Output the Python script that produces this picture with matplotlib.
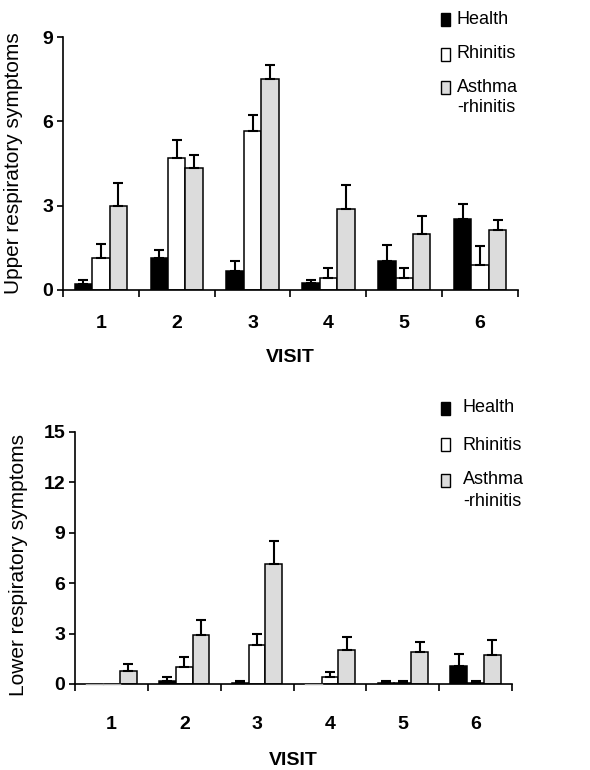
import matplotlib
matplotlib.use("Agg")
import matplotlib.pyplot as plt
import numpy as np
from matplotlib.patches import Rectangle

plt.rcParams['font.family'] = ['Liberation Sans', 'DejaVu Sans']

visits = ['1', '2', '3', '4', '5', '6']
groups = ['Health', 'Rhinitis', 'Asthma\n-rhinitis']
colors = ['black', 'white', '#dcdcdc']

upper_health = [0.21, 1.15, 0.66, 0.24, 1.02, 2.52]
upper_health_err = [0.15, 0.29, 0.37, 0.12, 0.58, 0.55]
upper_rhinitis = [1.15, 4.69, 5.65, 0.43, 0.43, 0.89]
upper_rhinitis_err = [0.47, 0.66, 0.59, 0.36, 0.36, 0.67]
upper_asthma = [3.00, 4.33, 7.51, 2.89, 1.99, 2.12]
upper_asthma_err = [0.79, 0.48, 0.48, 0.86, 0.64, 0.36]

lower_health = [0.0, 0.16, 0.08, 0.0, 0.08, 1.09]
lower_health_err = [0.0, 0.24, 0.12, 0.0, 0.12, 0.69]
lower_rhinitis = [0.0, 1.01, 2.30, 0.40, 0.08, 0.08]
lower_rhinitis_err = [0.0, 0.59, 0.69, 0.29, 0.12, 0.12]
lower_asthma = [0.79, 2.89, 7.12, 2.00, 1.88, 1.70]
lower_asthma_err = [0.40, 0.93, 1.39, 0.79, 0.61, 0.89]

W, H = 590, 770


def draw_panel(ax, means, errs, ymax, yticks, ylabel, label_pad, label_xy, xlabel_pad):
    x = np.arange(1, len(visits) + 1)
    width = 0.23
    for i, (m, e, c) in enumerate(zip(means, errs, colors)):
        xs = x + (i - 1) * width
        ax.bar(xs, m, width=width, color=c, edgecolor='black', linewidth=1.1, zorder=2)
        m = np.asarray(m)
        e = np.asarray(e)
        keep = e > 0
        ax.errorbar(xs[keep], m[keep], yerr=[np.zeros(keep.sum()), e[keep]],
                    fmt='none', ecolor='black', elinewidth=1.5, capsize=3.5,
                    capthick=1.5, zorder=3)
        # zero-height bars show as a faint dash on the axis
        for xz in xs[m == 0]:
            ax.plot([xz - width / 2, xz + width / 2], [0, 0], color='#aaaaaa',
                    linewidth=1.0, zorder=4, clip_on=False)
    ax.set_xlim(0.5, len(visits) + 0.5)
    ax.set_ylim(0, ymax)
    ax.set_yticks(yticks)
    ax.set_xticks(x)
    ax.set_xticklabels(visits, fontsize=14, fontweight='bold')
    ax.set_xticks(np.arange(0.5, len(visits) + 1), minor=True)
    ax.tick_params(axis='x', which='major', length=0, pad=label_pad)
    ax.tick_params(axis='x', which='minor', length=5, width=1.2, direction='out')
    ax.tick_params(axis='y', length=4, width=1.2, direction='out', pad=3)
    for lab in ax.get_yticklabels():
        lab.set_fontsize(14)
        lab.set_fontweight('bold')
    for s in ['top', 'right']:
        ax.spines[s].set_visible(False)
    for s in ['left', 'bottom']:
        ax.spines[s].set_linewidth(1.2)
    ax.set_ylabel(ylabel, fontsize=15)
    ax.yaxis.set_label_coords(*label_xy)
    ax.set_xlabel('VISIT', fontsize=14, fontweight='bold', labelpad=xlabel_pad)


def draw_key(fig, marker_x, text_x, rows):
    for (yc, c, label) in zip(rows, colors, groups):
        fig.patches.append(Rectangle(((marker_x - 4.5) / W, 1 - (yc + 6.5) / H), 9 / W, 13 / H,
                                     transform=fig.transFigure, facecolor=c,
                                     edgecolor='black', linewidth=1.0))
        lines = label.split('\n')
        for j, line in enumerate(lines):
            fig.text(text_x / W, 1 - (yc + j * 21) / H, line, fontsize=13,
                     va='center', ha='left')


fig = plt.figure(figsize=(W / 100, H / 100), dpi=100)

ax1 = fig.add_axes([63 / W, 1 - 290 / H, (518 - 63) / W, (290 - 37) / H])
draw_panel(ax1, [upper_health, upper_rhinitis, upper_asthma],
           [upper_health_err, upper_rhinitis_err, upper_asthma_err],
           9, [0, 3, 6, 9], 'Upper respiratory symptoms', 18, (-0.088, 0.5), 12)
draw_key(fig, 445, 457, [19, 54, 87])

ax2 = fig.add_axes([75 / W, 1 - 684 / H, (512 - 75) / W, (684 - 432) / H])
draw_panel(ax2, [lower_health, lower_rhinitis, lower_asthma],
           [lower_health_err, lower_rhinitis_err, lower_asthma_err],
           15, [0, 3, 6, 9, 12, 15], 'Lower respiratory symptoms', 23, (-0.108, 0.472), 13.5)
draw_key(fig, 445, 463, [408, 445, 480])

fig.savefig('out.png', dpi=100)
